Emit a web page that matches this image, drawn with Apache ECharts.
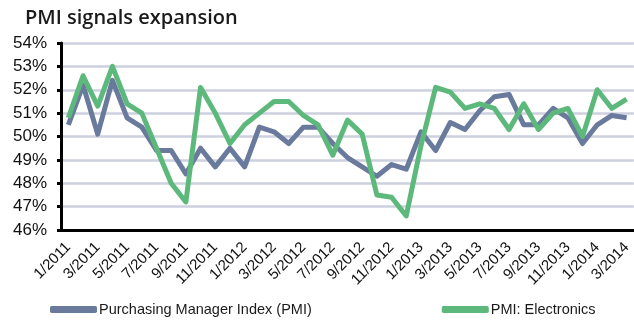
<!DOCTYPE html>
<html>
<head>
<meta charset="utf-8">
<script src="https://cdn.jsdelivr.net/npm/echarts@6/dist/echarts.min.js"></script>
<style>
  html, body { margin: 0; padding: 0; background: #ffffff; }
  #chart { width: 634px; height: 320px; }
</style>
</head>
<body>
<div id="chart"></div>
<script>
// Monthly categories, January 2011 to March 2014
const months = [
  '1/2011', '2/2011', '3/2011', '4/2011', '5/2011', '6/2011', '7/2011', '8/2011', '9/2011', '10/2011', '11/2011', '12/2011',
  '1/2012', '2/2012', '3/2012', '4/2012', '5/2012', '6/2012', '7/2012', '8/2012', '9/2012', '10/2012', '11/2012', '12/2012',
  '1/2013', '2/2013', '3/2013', '4/2013', '5/2013', '6/2013', '7/2013', '8/2013', '9/2013', '10/2013', '11/2013', '12/2013',
  '1/2014', '2/2014', '3/2014'
];

// Purchasing Manager Index (%)
const pmi = [
  50.5, 52.2, 50.1, 52.4, 50.8, 50.4, 49.4, 49.4, 48.4, 49.5, 48.7, 49.5,
  48.7, 50.4, 50.2, 49.7, 50.4, 50.4, 49.7, 49.1, 48.7, 48.3, 48.8, 48.6,
  50.2, 49.4, 50.6, 50.3, 51.1, 51.7, 51.8, 50.5, 50.5, 51.2, 50.8, 49.7,
  50.5, 50.9, 50.8
];

// PMI: Electronics (%)
const electronics = [
  50.8, 52.6, 51.3, 53.0, 51.4, 51.0, 49.5, 48.0, 47.2, 52.1, 51.0, 49.7,
  50.5, 51.0, 51.5, 51.5, 50.9, 50.5, 49.2, 50.7, 50.1, 47.5, 47.4, 46.6,
  49.6, 52.1, 51.9, 51.2, 51.4, 51.2, 50.3, 51.4, 50.3, 51.0, 51.2, 50.0,
  52.0, 51.2, 51.6
];

const seriesNames = ['Purchasing Manager Index (PMI)', 'PMI: Electronics'];
const yMin = 46, yMax = 54, yStep = 1;

const chart = echarts.init(document.getElementById('chart'), null, { renderer: 'canvas' });

chart.setOption({
  animation: false,
  backgroundColor: '#ffffff',
  title: {
    text: 'PMI signals expansion',
    left: 20,
    top: 3,
    textStyle: {
      fontFamily: 'Open Sans',
      fontWeight: 600,
      fontSize: 20,
      color: '#1a1a1a'
    }
  },
  legend: {
    data: seriesNames,
    left: 45,
    top: 297,
    itemWidth: 47,
    itemHeight: 7,
    itemGap: 130,
    icon: 'roundRect',
    textStyle: {
      fontFamily: 'Liberation Sans',
      fontSize: 14.5,
      color: '#1a1a1a',
      padding: [0, 0, 0, -3]
    }
  },
  grid: {
    left: 61,
    right: -3,
    top: 43,
    bottom: 90
  },
  xAxis: {
    type: 'category',
    data: months,
    boundaryGap: true,
    axisLine: { lineStyle: { color: '#000000', width: 3 } },
    axisTick: { interval: 1, length: 5, lineStyle: { color: '#000000', width: 3 } },
    axisLabel: {
      interval: 1,
      rotate: 45,
      margin: 15,
      fontFamily: 'Liberation Sans',
      fontSize: 15,
      color: '#111111'
    },
    splitLine: { show: false }
  },
  yAxis: {
    type: 'value',
    min: yMin,
    max: yMax,
    interval: yStep,
    axisLine: { show: true, lineStyle: { color: '#000000', width: 3 } },
    axisTick: { show: true, length: 4, lineStyle: { color: '#000000', width: 3 } },
    axisLabel: {
      formatter: '{value}%',
      margin: 14,
      fontFamily: 'Liberation Sans',
      fontSize: 17,
      color: '#111111'
    },
    splitLine: { lineStyle: { color: '#cdd0de', width: 2.5 } }
  },
  series: [
    {
      name: seriesNames[0],
      type: 'line',
      data: pmi,
      symbol: 'none',
      color: '#6a7a9d',
      lineStyle: { width: 5, color: '#6a7a9d', join: 'round' }
    },
    {
      name: seriesNames[1],
      type: 'line',
      data: electronics,
      symbol: 'none',
      color: '#5db97b',
      lineStyle: { width: 5, color: '#5db97b', join: 'round' }
    }
  ]
});
</script>
</body>
</html>
